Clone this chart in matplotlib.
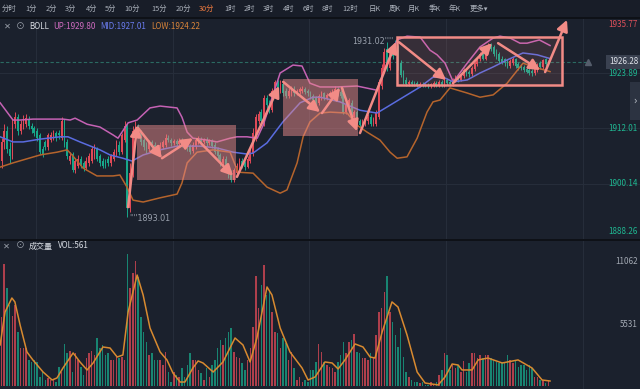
import numpy as np
import matplotlib
matplotlib.use("Agg")
import matplotlib.pyplot as plt
from matplotlib.patches import Rectangle
from matplotlib.lines import Line2D

plt.rcParams['font.family'] = ['Noto Sans CJK SC', 'DejaVu Sans']

# ---------------- data (30分 K线) ----------------
o = [1905.0, 1909.0, 1911.5, 1907.5, 1906.0, 1913.0, 1914.5, 1911.5, 1912.5, 1913.0,
     1914.0, 1912.5, 1912.0, 1911.5, 1910.5, 1907.5, 1909.0, 1908.0, 1909.5, 1910.0,
     1911.0, 1911.0, 1910.0, 1913.5, 1909.0, 1905.0, 1906.5, 1903.0, 1904.0, 1905.5,
     1904.5, 1903.5, 1904.5, 1905.0, 1906.0, 1907.5, 1906.0, 1905.0, 1905.0, 1905.5,
     1904.5, 1905.5, 1906.5, 1908.5, 1907.0, 1909.5, 1912.5, 1895.0, 1902.5, 1911.5,
     1912.5, 1911.0, 1909.5, 1908.5, 1907.5, 1909.0, 1908.5, 1908.0, 1907.0, 1908.0,
     1908.5, 1910.0, 1909.5, 1908.8, 1909.2, 1908.6, 1909.5, 1908.8, 1908.5, 1908.2,
     1907.2, 1908.0, 1909.0, 1909.6, 1909.0, 1909.6, 1908.8, 1909.3, 1908.5, 1907.5,
     1906.2, 1904.5, 1905.5, 1903.8, 1902.5, 1901.0, 1902.5, 1903.5, 1905.0, 1904.5,
     1903.8, 1905.0, 1906.5, 1910.0, 1913.5, 1915.5, 1913.0, 1918.5, 1917.5, 1916.0,
     1919.5, 1922.0, 1920.0, 1921.5, 1920.0, 1919.0, 1919.5, 1920.5, 1919.5, 1919.8,
     1920.0, 1920.5, 1920.0, 1919.6, 1919.0, 1918.5, 1917.5, 1918.5, 1919.5, 1918.5,
     1919.0, 1919.4, 1919.8, 1920.5, 1919.8, 1919.5, 1915.5, 1916.5, 1917.5, 1914.5,
     1915.5, 1913.5, 1912.5, 1913.0, 1913.5, 1914.5, 1913.0, 1913.0, 1914.5, 1921.0,
     1924.5, 1929.0, 1925.0, 1929.0, 1930.0, 1929.5, 1926.0, 1924.0, 1922.5, 1921.5,
     1922.0, 1921.8, 1921.8, 1921.2, 1921.6, 1921.5, 1921.4, 1921.0, 1921.2, 1921.8,
     1921.3, 1922.0, 1921.2, 1922.5, 1922.0, 1921.5, 1922.3, 1923.0, 1922.5, 1923.2,
     1924.5, 1924.2, 1923.6, 1924.8, 1925.8, 1926.8, 1928.0, 1927.0, 1928.5, 1930.0,
     1929.5, 1928.5, 1928.0, 1927.0, 1926.8, 1926.5, 1925.5, 1926.0, 1926.8, 1925.8,
     1925.5, 1925.2, 1924.8, 1924.5, 1924.3, 1923.8, 1924.6, 1926.0, 1925.2, 1926.8,
     1925.9]
c = [1909.0, 1911.5, 1907.5, 1906.0, 1913.0, 1914.5, 1911.5, 1913.0, 1914.0, 1914.2,
     1912.5, 1911.8, 1911.0, 1910.0, 1907.0, 1906.5, 1908.0, 1910.5, 1910.5, 1911.0,
     1910.0, 1910.5, 1913.5, 1908.5, 1906.0, 1906.0, 1903.0, 1905.0, 1905.5, 1904.0,
     1903.5, 1905.0, 1906.0, 1907.5, 1907.8, 1905.5, 1904.5, 1904.0, 1904.0, 1904.5,
     1906.0, 1907.0, 1909.0, 1907.0, 1910.5, 1912.5, 1895.0, 1902.5, 1911.5, 1912.5,
     1910.5, 1909.0, 1908.0, 1907.5, 1909.0, 1908.0, 1907.5, 1907.0, 1908.5, 1909.0,
     1910.0, 1909.5, 1908.8, 1909.2, 1908.6, 1909.4, 1908.5, 1908.2, 1907.8, 1907.0,
     1908.5, 1909.5, 1909.8, 1909.0, 1909.5, 1908.8, 1909.3, 1908.2, 1907.0, 1906.0,
     1904.5, 1905.5, 1903.5, 1902.0, 1901.0, 1903.0, 1904.0, 1905.0, 1904.0, 1903.8,
     1905.5, 1907.0, 1911.0, 1914.5, 1915.0, 1913.5, 1918.5, 1917.0, 1916.0, 1920.0,
     1922.0, 1920.0, 1921.5, 1919.5, 1919.0, 1920.0, 1920.5, 1919.5, 1920.0, 1920.4,
     1920.5, 1919.8, 1919.5, 1918.8, 1918.2, 1917.5, 1919.0, 1919.5, 1918.5, 1919.2,
     1919.6, 1920.0, 1920.5, 1919.5, 1919.0, 1915.5, 1917.0, 1918.0, 1914.5, 1915.5,
     1913.0, 1912.8, 1913.5, 1914.0, 1914.5, 1913.0, 1914.0, 1915.5, 1922.0, 1925.0,
     1928.5, 1925.0, 1928.5, 1927.5, 1929.0, 1925.0, 1923.5, 1922.0, 1921.5, 1922.0,
     1921.6, 1921.4, 1921.2, 1921.6, 1921.2, 1921.2, 1921.0, 1921.5, 1921.8, 1921.3,
     1922.0, 1921.2, 1922.5, 1921.8, 1921.5, 1922.5, 1923.0, 1922.5, 1923.5, 1924.5,
     1923.8, 1923.6, 1925.0, 1926.0, 1927.0, 1928.0, 1927.0, 1929.0, 1930.0, 1929.0,
     1928.0, 1927.5, 1926.5, 1926.2, 1926.0, 1925.5, 1926.5, 1926.8, 1925.5, 1925.0,
     1925.0, 1924.6, 1924.2, 1924.0, 1923.8, 1924.8, 1925.6, 1925.2, 1926.6, 1925.9,
     1926.28]
h = [1910.0, 1913.0, 1912.5, 1909.0, 1914.0, 1915.5, 1915.0, 1913.8, 1914.8, 1915.0,
     1914.6, 1913.2, 1912.6, 1912.0, 1911.0, 1908.2, 1909.6, 1911.0, 1911.2, 1911.6,
     1911.5, 1911.6, 1914.5, 1914.0, 1909.8, 1907.0, 1907.0, 1905.6, 1906.3, 1906.0,
     1905.0, 1905.8, 1906.8, 1908.2, 1908.6, 1908.0, 1906.6, 1905.6, 1905.5, 1906.0,
     1906.6, 1907.6, 1909.6, 1909.2, 1911.0, 1913.5, 1913.2, 1904.5, 1912.5, 1913.5,
     1913.0, 1911.6, 1910.0, 1909.0, 1909.6, 1909.6, 1909.0, 1908.5, 1909.0, 1909.6,
     1910.8, 1910.6, 1910.0, 1909.8, 1909.8, 1910.0, 1910.0, 1909.3, 1909.0, 1908.6,
     1909.0, 1910.0, 1910.4, 1910.2, 1910.0, 1910.2, 1909.8, 1909.8, 1909.0, 1908.0,
     1906.8, 1906.0, 1906.0, 1904.3, 1903.0, 1903.6, 1904.6, 1905.6, 1905.6, 1905.0,
     1906.0, 1907.6, 1912.0, 1915.2, 1915.8, 1916.2, 1919.2, 1919.2, 1918.2, 1920.6,
     1922.4, 1922.4, 1922.3, 1922.0, 1920.6, 1920.6, 1921.0, 1921.0, 1920.5, 1920.8,
     1921.0, 1920.8, 1920.4, 1920.0, 1919.4, 1918.9, 1919.4, 1920.0, 1919.9, 1919.6,
     1920.0, 1920.4, 1921.0, 1920.9, 1920.2, 1920.7, 1917.5, 1918.6, 1918.0, 1916.0,
     1916.0, 1914.0, 1914.0, 1914.5, 1915.0, 1915.0, 1914.5, 1916.0, 1922.6, 1925.8,
     1929.2, 1930.5, 1929.2, 1929.6, 1931.02, 1930.0, 1926.6, 1924.6, 1923.0, 1922.5,
     1922.4, 1922.2, 1922.2, 1922.0, 1922.0, 1921.8, 1921.8, 1921.8, 1922.2, 1922.2,
     1922.4, 1922.4, 1922.9, 1922.9, 1922.4, 1922.9, 1923.4, 1923.4, 1923.9, 1925.0,
     1925.0, 1924.6, 1925.4, 1926.4, 1927.4, 1928.5, 1928.5, 1929.4, 1930.3, 1930.3,
     1929.9, 1929.0, 1928.4, 1927.5, 1927.2, 1927.0, 1926.9, 1927.3, 1927.2, 1926.3,
     1925.9, 1925.6, 1925.2, 1924.9, 1924.7, 1925.2, 1926.0, 1926.5, 1927.0, 1927.2,
     1926.6]
l = [1903.5, 1907.5, 1906.8, 1904.5, 1905.5, 1912.0, 1910.5, 1910.8, 1911.8, 1912.4,
     1911.8, 1911.0, 1910.4, 1909.4, 1906.5, 1905.8, 1907.4, 1907.4, 1909.0, 1909.5,
     1909.4, 1909.8, 1909.5, 1908.0, 1905.4, 1904.4, 1902.6, 1902.5, 1903.4, 1903.5,
     1902.8, 1903.0, 1904.0, 1904.5, 1905.5, 1905.0, 1904.0, 1903.4, 1903.5, 1904.0,
     1904.0, 1905.0, 1906.0, 1906.4, 1906.5, 1909.0, 1893.01, 1894.0, 1901.5, 1910.8,
     1910.0, 1908.4, 1907.4, 1906.8, 1907.0, 1907.4, 1907.0, 1906.4, 1906.5, 1907.5,
     1908.0, 1909.0, 1908.2, 1908.4, 1908.0, 1908.0, 1908.0, 1907.8, 1907.2, 1906.5,
     1906.8, 1907.6, 1908.6, 1908.5, 1908.6, 1908.2, 1908.4, 1907.8, 1906.5, 1905.4,
     1904.0, 1904.0, 1903.0, 1901.4, 1900.5, 1900.6, 1902.0, 1903.0, 1903.4, 1903.0,
     1903.4, 1904.6, 1906.0, 1909.4, 1913.0, 1913.0, 1912.6, 1916.4, 1915.4, 1915.6,
     1919.0, 1919.4, 1919.6, 1919.0, 1918.5, 1918.6, 1919.0, 1919.0, 1919.2, 1919.4,
     1919.6, 1919.4, 1919.0, 1918.4, 1917.8, 1917.0, 1917.0, 1918.0, 1918.0, 1918.0,
     1918.6, 1919.0, 1919.4, 1919.0, 1918.5, 1915.0, 1915.0, 1916.0, 1914.0, 1914.0,
     1912.5, 1912.2, 1912.0, 1912.6, 1913.0, 1912.5, 1912.6, 1912.6, 1914.0, 1920.5,
     1924.0, 1924.4, 1924.6, 1927.0, 1928.5, 1924.5, 1923.0, 1921.5, 1921.0, 1921.0,
     1921.2, 1921.0, 1920.8, 1920.8, 1920.8, 1920.8, 1920.6, 1920.6, 1920.9, 1920.9,
     1920.9, 1920.8, 1920.8, 1921.4, 1921.0, 1921.1, 1921.9, 1922.0, 1922.1, 1922.8,
     1923.3, 1923.1, 1923.2, 1924.4, 1925.4, 1926.4, 1926.6, 1926.6, 1928.0, 1928.6,
     1927.6, 1927.0, 1926.0, 1925.8, 1925.5, 1925.0, 1925.0, 1925.6, 1925.0, 1924.6,
     1924.6, 1924.2, 1923.8, 1923.5, 1923.2, 1923.4, 1924.2, 1924.8, 1924.8, 1925.5,
     1925.6]
vol = [6180, 10900, 8700, 7200, 6200, 7200, 4850, 3370, 3370, 3370,
       2340, 2190, 2340, 2190, 850, 1300, 560, 700, 560, 560,
       410, 1740, 1300, 3760, 2930, 3130, 1300, 2930, 2340, 1740,
       1000, 2480, 2930, 3130, 2780, 4260, 3370, 3670, 2780, 2930,
       2340, 2340, 2630, 2480, 2630, 2340, 11720, 8740, 10030, 11130,
       9690, 6180, 4850, 3960, 2780, 2930, 2340, 2340, 2340, 1890,
       3080, 1300, 410, 1300, 1000, 850, 1600, 850, 1890, 2930,
       2340, 2340, 1450, 1150, 560, 1600, 850, 1890, 2340, 3370,
       4110, 3670, 4260, 4850, 5150, 3080, 2630, 2480, 2040, 1450,
       2330, 3370, 5300, 9790, 6980, 9000, 10770, 8110, 8400, 6630,
       4850, 4700, 3370, 4260, 3820, 2340, 3080, 1600, 560, 860,
       410, 560, 410, 1450, 1450, 2190, 3760, 3080, 2190, 1890,
       1740, 1600, 1300, 2190, 2780, 3960, 2930, 3960, 4110, 4600,
       3080, 2930, 2480, 2480, 2340, 2930, 2480, 4560, 6630, 6920,
       8400, 9790, 6630, 5740, 4560, 3520, 5150, 2630, 1300, 860,
       560, 410, 410, 260, 410, 115, 115, 410, 115, 410,
       1000, 1450, 2930, 2780, 1450, 1890, 1600, 1890, 1300, 2260,
       1300, 2040, 2930, 2930, 2480, 2780, 2480, 2780, 2780, 2480,
       2340, 2130, 2040, 2130, 2040, 2780, 2340, 2040, 2340, 1740,
       1890, 1890, 1450, 1890, 1600, 860, 860, 560, 560, 260,
       561]

# BOLL bands, read at sample bars
up_i = [-0.5, 4.2, 6.8, 11.5, 22.5, 25.1, 26.9, 31.3, 36.0, 40.8, 42.6, 46.3, 49.6, 54.3, 58.0,
        64.2, 66.0, 67.9, 70.0, 75.2, 78.8, 83.6, 86.1, 89.8, 93.5, 95.7, 99.3, 101.9, 106.6,
        109.9, 112.8, 116.5, 122.7, 130.0, 137.3, 141.0, 144.7, 148.3, 153.1, 156.7, 159.3,
        162.2, 165.2, 170.3, 175.0, 179.8, 182.3, 186.0, 189.6, 192.2, 196.7, 200.6]
up_p = [1917.5, 1913.8, 1913.8, 1914.0, 1914.0, 1913.8, 1914.2, 1912.9, 1912.3, 1910.6, 1909.9,
        1913.2, 1913.8, 1916.4, 1916.8, 1916.4, 1914.4, 1911.2, 1909.9, 1909.5, 1909.1, 1909.9,
        1910.2, 1910.2, 1909.9, 1912.7, 1919.2, 1923.9, 1925.6, 1925.4, 1921.7, 1920.9, 1920.9,
        1921.1, 1920.2, 1926.0, 1931.0, 1931.8, 1931.6, 1928.8, 1927.8, 1926.0, 1922.0, 1926.0,
        1929.5, 1931.4, 1931.8, 1931.4, 1930.3, 1930.3, 1931.0, 1929.8]
mid_i = [-0.5, 4.2, 7.9, 14.1, 21.4, 24.3, 28.7, 36.0, 39.7, 44.4, 47.7, 51.8, 58.0, 64.2, 72.6,
         78.8, 84.7, 89.8, 92.0, 97.1, 102.9, 109.2, 113.9, 116.5, 123.8, 131.1, 137.3, 141.0,
         146.9, 153.1, 157.8, 161.5, 165.2, 170.3, 175.0, 179.8, 184.9, 190.7, 195.9, 200.6]
mid_p = [1910.2, 1909.1, 1909.1, 1909.7, 1910.2, 1910.2, 1909.1, 1907.4, 1906.3, 1905.6, 1905.0,
         1906.3, 1907.4, 1908.2, 1908.2, 1907.8, 1906.9, 1906.5, 1906.7, 1908.9, 1913.4, 1917.5,
         1918.7, 1918.7, 1917.7, 1915.9, 1915.3, 1916.6, 1918.7, 1920.9, 1923.0, 1923.0, 1922.0,
         1922.4, 1923.9, 1925.2, 1926.7, 1928.2, 1927.8, 1927.0]
low_i = [-0.5, 4.2, 14.1, 20.3, 24.0, 25.8, 29.8, 34.9, 40.8, 43.3, 45.9, 48.1, 51.8, 58.0, 64.2,
         66.0, 67.9, 71.5, 77.4, 83.6, 86.5, 92.0, 97.1, 101.9, 104.4, 108.1, 110.3, 112.8,
         116.5, 120.2, 126.4, 130.0, 133.7, 138.4, 142.1, 144.7, 148.3, 152.0, 155.6, 157.8,
         160.4, 164.0, 170.3, 175.0, 179.8, 184.9, 190.7, 195.9, 200.6]
low_p = [1903.7, 1904.6, 1906.3, 1906.9, 1907.4, 1906.3, 1903.5, 1901.8, 1901.8, 1902.0, 1899.4,
         1896.6, 1896.2, 1897.1, 1897.9, 1900.3, 1904.6, 1906.9, 1907.4, 1906.9, 1902.6, 1902.4,
         1899.4, 1898.1, 1898.8, 1904.6, 1910.2, 1913.4, 1915.3, 1915.5, 1915.3, 1912.7, 1911.2,
         1909.5, 1906.9, 1905.6, 1905.9, 1909.9, 1915.5, 1917.7, 1918.1, 1920.7, 1919.6, 1918.7,
         1919.2, 1921.7, 1926.0, 1925.0, 1924.2]

# volume moving average
ma_i = [-0.5, 1.3, 3.8, 4.9, 6.8, 9.3, 11.5, 15.2, 18.5, 20.3, 22.5, 26.2, 28.7, 31.3, 33.5,
        37.1, 39.7, 42.3, 44.4, 46.3, 49.6, 51.8, 54.3, 58.0, 60.5, 62.7, 65.3, 67.1, 70.0,
        71.9, 73.7, 77.4, 81.0, 85.4, 88.3, 90.9, 93.4, 97.1, 98.9, 101.9, 105.5, 109.9,
        112.1, 114.7, 118.3, 120.9, 123.1, 125.6, 129.3, 132.2, 134.8, 136.6, 139.2, 142.8,
        145.0, 148.3, 152.0, 154.9, 159.7, 162.2, 164.8, 167.0, 168.4, 172.1, 174.3, 177.9,
        183.1, 188.9, 194.0, 197.7, 200.6]
ma_v = [3670, 6600, 7840, 7490, 5440, 3050, 2330, 1270, 560, 740, 1630, 2960, 2160, 1450, 2070,
        3490, 3400, 2600, 2780, 6600, 9880, 8100, 5180, 3050, 2340, 1180, 380, 380, 1630, 2250,
        2070, 1270, 2160, 4290, 3670, 2160, 4290, 8820, 8110, 5180, 3050, 1630, 560, 830, 2160,
        2070, 1540, 2340, 3760, 3490, 2600, 2510, 4820, 7490, 7040, 4560, 1270, 290, 120, 830,
        1980, 1890, 1450, 1450, 2340, 2510, 2070, 2340, 1630, 560, 470]

# drawn zones (bar index from/to, price from/to) and trend arrows
zones = [(49.6, 85.7, 1900.9, 1912.7), (103.0, 130.4, 1910.4, 1922.6)]
big_zone = (144.7, 205.0, 1921.3, 1931.6)
arrow_from = [(46.3, 1895.1), (49.9, 1912.1), (58.7, 1905.6), (71.5, 1909.7), (86.1, 1901.6),
              (103.0, 1922.0), (117.2, 1915.3), (124.5, 1920.7), (131.1, 1911.0),
              (145.4, 1930.5), (165.1, 1921.7), (181.6, 1930.3), (198.8, 1924.1)]
arrow_to = [(49.6, 1912.7), (58.7, 1905.6), (70.0, 1909.9), (84.7, 1901.8), (101.5, 1921.1),
            (116.5, 1915.5), (123.8, 1920.7), (130.0, 1911.4), (144.3, 1930.6),
            (162.6, 1922.4), (179.4, 1930.3), (197.0, 1924.5), (206.8, 1935.3)]

price_ticks = [1935.77, 1923.89, 1912.01, 1900.14, 1888.26]
vol_ticks = [11062, 5531]
menu = ['分时', '1分', '2分', '3分', '4分', '5分', '10分', '15分', '20分', '30分', '1时', '2时',
        '3时', '4时', '6时', '8时', '12时', '日K', '周K', '月K', '季K', '年K', '更多▾']
active = '30分'

# ---------------- style ----------------
BG = '#1b212d'
GRID = '#262d3a'
UPC = '#e04a57'
DNC = '#17a88a'
ARW = '#f28b86'
W, H = 640.0, 389.0

def fx(px):
    return px / W

def fy(py):
    return 1 - py / H

o, c, h, l, vol = map(np.array, (o, c, h, l, vol))
idx = np.arange(len(c))
col = np.where(c >= o, UPC, DNC)

fig = plt.figure(figsize=(6.4, 3.89), dpi=100, facecolor=BG)
fig.add_artist(Rectangle((0, fy(17.5)), 1, 17.5 / H, transform=fig.transFigure,
                         fc='#181d28', ec='none', zorder=-5))

ax = fig.add_axes([0, fy(239), 1, fy(17.7) - fy(239)])
axv = fig.add_axes([0, 0, 1, fy(240)])
for a in (ax, axv):
    a.set_facecolor(BG)
    a.set_xlim(-0.55, 233.5)
    a.set_xticks([])
    a.set_yticks([])
    for s in a.spines.values():
        s.set_visible(False)
    for gx in [12.6, 62.7, 112.6, 162.6, 212.6]:
        a.axvline(gx, color=GRID, lw=0.8, zorder=0)

ax.set_ylim(price_ticks[-1], price_ticks[0])
axv.set_ylim(-240, 12990)

for p in price_ticks[1:4]:
    ax.axhline(p, color=GRID, lw=0.8, zorder=0)

# candles
ax.vlines(idx, l, h, colors=col, lw=0.7, zorder=2)
ax.bar(idx, np.maximum(np.abs(c - o), 0.12), bottom=np.minimum(o, c), width=0.62,
       color=col, linewidth=0, zorder=2)

# bands
ax.plot(up_i, up_p, color='#c562b4', lw=1.1, zorder=3)
ax.plot(mid_i, mid_p, color='#5a6ce0', lw=1.1, zorder=3)
ax.plot(low_i, low_p, color='#b5642c', lw=1.1, zorder=3)

# current price line
ax.axhline(c[-1], xmax=0.92, color='#2b6a62', lw=0.8, ls=(0, (3, 2)), zorder=1)

# zones
for x0, x1, p0, p1 in zones:
    ax.add_patch(Rectangle((x0, p0), x1 - x0, p1 - p0, fc='#ea8a8a', alpha=0.5,
                           ec='none', zorder=4))
x0, x1, p0, p1 = big_zone
ax.add_patch(Rectangle((x0, p0), x1 - x0, p1 - p0, fc=(0.94, 0.54, 0.53, 0.13),
                       ec=ARW, lw=1.8, zorder=4))

for s, e in zip(arrow_from, arrow_to):
    ax.annotate('', xy=e, xytext=s, annotation_clip=False, zorder=5,
                arrowprops=dict(arrowstyle='-|>,head_length=0.6,head_width=0.3',
                                color=ARW, lw=1.8, shrinkA=0, shrinkB=0,
                                mutation_scale=11))

# high / low marks
lo = int(np.argmin(l))
hi = int(np.argmax(h))
ax.text(lo + 0.8, l[lo] - 0.4, "''''" + f'{l[lo]:.2f}', color='#9aa1ad', fontsize=5.8,
        family='DejaVu Sans', ha='left', va='center', zorder=6)
ax.text(hi - 0.8, h[hi] - 0.4, f'{h[hi]:.2f}' + "''''", color='#9aa1ad', fontsize=5.8,
        family='DejaVu Sans', ha='right', va='center', zorder=6)

# price labels
tr = ax.get_yaxis_transform()
for k, p in enumerate(price_ticks):
    va, dy = 'center', 0
    if k == 0:
        va, dy = 'top', -2
    elif k == len(price_ticks) - 1:
        va, dy = 'bottom', 2
    ax.annotate(f'{p:.2f}', xy=(0.996, p), xycoords=tr, xytext=(0, dy),
                textcoords='offset points', ha='right', va=va, fontsize=5.8,
                color='#e0505b' if k == 0 else '#1fb892', zorder=7)
ax.text(0.997, c[-1], f'{c[-1]:.2f}', transform=tr, ha='right', va='center', fontsize=5.8,
        color='#dfe3ea', zorder=8,
        bbox=dict(boxstyle='square,pad=0.3', fc='#3a4150', ec='none'))
ax.plot([214.6], [c[-1]], marker='^', ms=4.5, color='#555d6b', zorder=7, clip_on=False)

# volume
axv.bar(idx, vol, width=0.55, color=col, linewidth=0, alpha=0.75, zorder=2)
axv.plot(ma_i, ma_v, color='#d88a30', lw=1.1, zorder=3)
trv = axv.get_yaxis_transform()
for v in vol_ticks:
    axv.text(0.996, v, str(v), transform=trv, ha='right', va='center', fontsize=5.8,
             color='#a3a9b3')

# panel separators and side tab
for yy in (17.5, 239.5):
    fig.add_artist(Line2D([0, 1], [fy(yy), fy(yy)], transform=fig.transFigure,
                          color='#0e1117', lw=1.4, zorder=10))
fig.add_artist(Rectangle((fx(630), fy(120)), fx(10), 38 / H, transform=fig.transFigure,
                         fc='#2c3341', ec='none', zorder=10))
fig.text(fx(635), fy(101), '›', color='#c3c8d0', fontsize=8, ha='center', va='center',
         zorder=11)

# menu bar
menu_x = [2, 25, 46, 65, 86, 105, 124, 151, 176, 199, 224, 244, 263, 283, 303, 322, 342,
          369, 389, 408, 429, 449, 470]
for t, xp in zip(menu, menu_x):
    fig.text(fx(xp), fy(8.5), t, fontsize=5.3, va='center', ha='left',
             color='#f07b3f' if t == active else '#aab0ba')

# indicator headers
fig.text(fx(4), fy(26.5), '✕', fontsize=6, color='#9aa0aa', va='center')
fig.text(fx(16), fy(26.5), '⊙', fontsize=6.5, color='#9aa0aa', va='center')
fig.text(fx(29), fy(26.5), 'BOLL', fontsize=5.8, color='#d8dce3', va='center')
fig.text(fx(53), fy(26.5), 'UP:1929.80', fontsize=5.8, color='#cf6cc0', va='center')
fig.text(fx(100), fy(26.5), 'MID:1927.01', fontsize=5.8, color='#6a7cf0', va='center')
fig.text(fx(151), fy(26.5), 'LOW:1924.22', fontsize=5.8, color='#d8843a', va='center')

fig.text(fx(3), fy(246), '✕', fontsize=6, color='#9aa0aa', va='center')
fig.text(fx(16), fy(246), '⊙', fontsize=6.5, color='#9aa0aa', va='center')
fig.text(fx(29), fy(246), '成交量', fontsize=5.8, color='#d8dce3', va='center')
fig.text(fx(58), fy(246), f'VOL:{vol[-1]}', fontsize=5.8, color='#d8dce3', va='center')

fig.savefig('out.png', dpi=100, facecolor=BG)
